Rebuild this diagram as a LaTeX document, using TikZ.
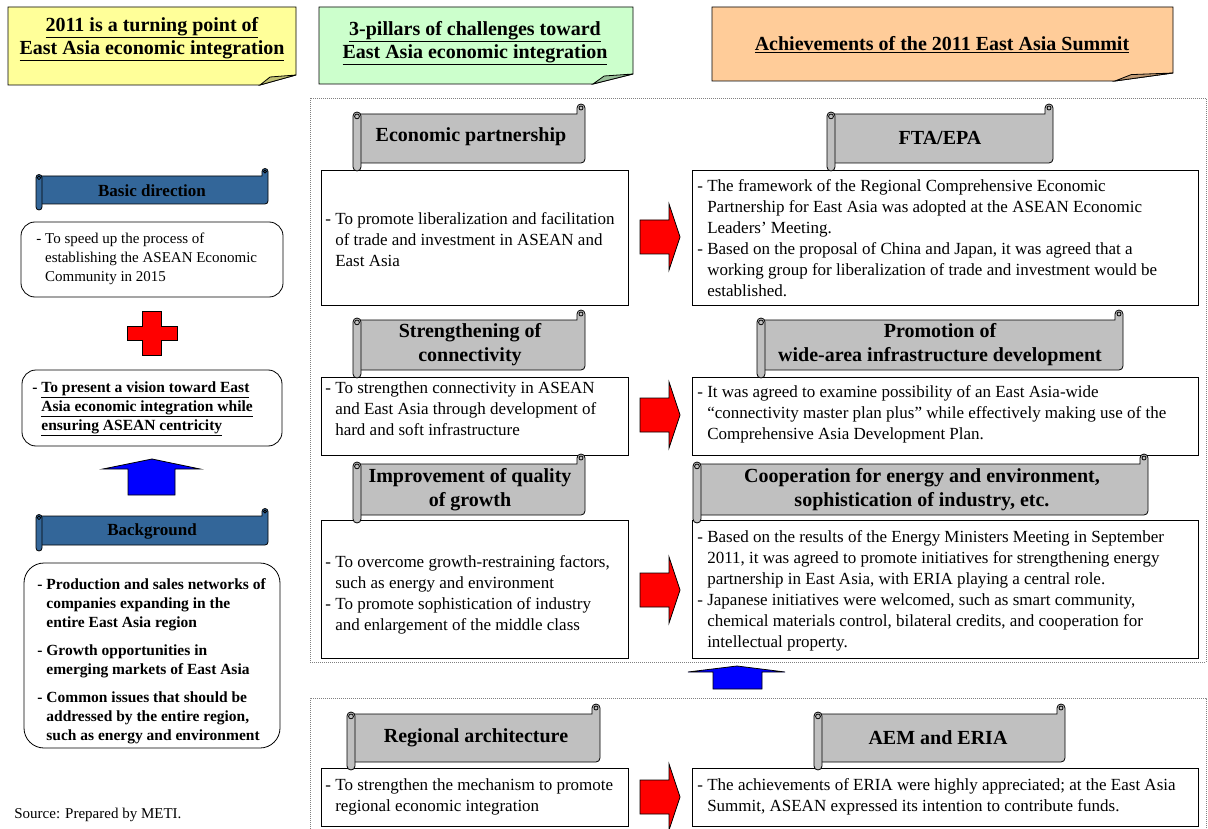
\documentclass[tikz,border=0pt]{standalone}
\usepackage{fontspec}
\setmainfont{Liberation Serif}
\usepackage{tikz}
\usetikzlibrary{calc}

\definecolor{noteyellow}{HTML}{FFFF99}
\definecolor{notegreen}{HTML}{CCFFCC}
\definecolor{noteorange}{HTML}{FFCC99}
\definecolor{scrollblue}{HTML}{336699}
\definecolor{scrollgray}{HTML}{C0C0C0}

\tikzset{
  pane/.style={draw, fill=white},
  softpane/.style={draw, fill=white, rounded corners=14pt},
  dotframe/.style={draw=gray, line width=0.8pt, dash pattern=on 1pt off 1pt},
  body/.style={font=\fontsize{17}{21}\selectfont, align=left, inner sep=0pt, anchor=west},
  sidetext/.style={font=\fontsize{15}{19}\selectfont, align=left, inner sep=0pt, anchor=west},
  sidebold/.style={font=\bfseries\fontsize{15.5}{19}\selectfont, align=left, inner sep=0pt, anchor=west},
  scrolltext/.style={font=\bfseries\fontsize{20}{24}\selectfont, align=center, inner sep=0pt},
  sidescroll/.style={font=\bfseries\fontsize{17}{20}\selectfont, align=center, inner sep=0pt},
  headtext/.style={font=\bfseries\fontsize{20}{23}\selectfont, align=center, inner sep=0pt},
  redblock/.style={draw, fill=red},
  blueblock/.style={draw, fill=blue},
}

\newcommand{\ind}{\hspace*{0.58em}}
\newcommand{\foldnote}[7]{%
  \filldraw[fill=#7] (#1,#2) -- (#3,#2) -- (#3,{#4-#6}) -- ({#3-#5},#4) -- (#1,#4) -- cycle;
  \filldraw[fill=#7!75!black] ({#3-#5},#4) -- ({#3-0.72*#5},{#4-0.8*#6}) -- (#3,{#4-#6}) -- cycle;
}
\newcommand{\scrollshape}[6]{%
  \filldraw[fill=#5] ({#1+#6},#2) -- ({#3-2*#6},#2) -- ({#3-2*#6},{#2-1.5*#6})
    arc (180:360:#6) -- (#3,{#4-#6}) arc (0:90:#6) -- ({#1+#6},#4) -- cycle;
  \draw ({#3-#6},{#2-1.5*#6}) circle ({0.5*#6});
  \filldraw[fill=#5, rounded corners=#6pt] (#1,{#2-0.5*#6}) rectangle ({#1+2*#6},{#4+2*#6});
  \draw ({#1+#6},{#2+0.6*#6}) circle ({0.6*#6});
}
\newcommand{\rightblock}[1]{%
  \filldraw[redblock] (640,{#1-17}) -- (669,{#1-17}) -- (669,{#1-33}) -- (680,#1)
    -- (669,{#1+33}) -- (669,{#1+17}) -- (640,{#1+17}) -- cycle;
}

\begin{document}
\begin{tikzpicture}[x=1pt, y=-1pt, line width=0.8pt]
\useasboundingbox (0,0) rectangle (1208,829);
\fill[white] (0,0) rectangle (1208,829);

\foldnote{8}{7}{296}{85}{36}{10}{noteyellow}
\foldnote{319}{7}{633}{84}{40}{10}{notegreen}
\foldnote{712}{7}{1173}{81}{58}{8}{noteorange}
\node[headtext] (turn) at (152,39.5) {\underline{2011 is a turning point of}\\\underline{East Asia economic integration}};
\node[headtext] (pillars) at (475,43) {\underline{3-pillars of challenges toward}\\\underline{East Asia economic integration}};
\node[headtext] (summit) at (942,45) {\underline{Achievements of the 2011 East Asia Summit}};

\draw[dotframe] (310,98) rectangle (1206,662);
\draw[dotframe] (310,835) -- (310,698) -- (1206,698) -- (1206,835);

% left column
\draw[softpane] (21,222) rectangle (283,297);
\draw[softpane] (22,370) rectangle (282,446);
\draw[softpane, rounded corners=20pt] (24,563) rectangle (280,748);
\scrollshape{36}{176}{268}{204}{scrollblue}{3}
\scrollshape{36}{516}{268}{545}{scrollblue}{3}
\node[sidescroll] (basic) at (152,191) {Basic direction};
\node[sidescroll] (backgr) at (152,531) {Background};
\node[sidetext] (speed) at (36,259) {- To speed up the process of\\\ind establishing the ASEAN Economic\\\ind Community in 2015};
\node[sidebold] (vision) at (32,409) {- \underline{To present a vision toward East}\\\ind\underline{Asia economic integration while}\\\ind\underline{ensuring ASEAN centricity}};
\node[sidebold] (networks) at (37,661.5) {- Production and sales networks of\\\ind companies expanding in the\\\ind entire East Asia region\\[9pt]- Growth opportunities in\\\ind emerging markets of East Asia\\[9pt]- Common issues that should be\\\ind addressed by the entire region,\\\ind such as energy and environment};
\filldraw[fill=red] (142,311) -- (161,311) -- (161,326) -- (177,326) -- (177,340) -- (161,340)
  -- (161,355) -- (142,355) -- (142,340) -- (127,340) -- (127,326) -- (142,326) -- cycle;
\filldraw[blueblock] (128,495) -- (128,469) -- (103,469) -- (152,459) -- (200,469) -- (175,469) -- (175,495) -- cycle;
\node[font=\fontsize{15}{18}\selectfont, anchor=west, inner sep=0pt] (source) at (14,815) {Source: Prepared by METI.};

% boxes
\draw[pane] (321,170) rectangle (628,305);
\draw[pane] (692,170) rectangle (1198,305);
\draw[pane] (321,377) rectangle (628,455);
\draw[pane] (692,377) rectangle (1198,455);
\draw[pane] (321,520) rectangle (628,658);
\draw[pane] (692,520) rectangle (1198,658);
\draw[pane] (321,768) rectangle (628,826);
\draw[pane] (692,768) rectangle (1198,826);

% scrolls
\scrollshape{353}{114}{585}{163}{scrollgray}{4}
\scrollshape{827}{114}{1053}{163}{scrollgray}{4}
\scrollshape{353}{320}{585}{370}{scrollgray}{4}
\scrollshape{757}{320}{1123}{370}{scrollgray}{4}
\scrollshape{353}{464}{585}{515}{scrollgray}{4}
\scrollshape{693}{464}{1148}{515}{scrollgray}{4}
\scrollshape{347}{714}{600}{762}{scrollgray}{4}
\scrollshape{814}{714}{1065}{762}{scrollgray}{4}
\node[scrolltext] (ecop) at (471,137) {Economic partnership};
\node[scrolltext] (fta) at (940,138) {FTA/EPA};
\node[scrolltext] (conn) at (470,345) {Strengthening of\\connectivity};
\node[scrolltext] (infra) at (940,345) {Promotion of\\wide-area infrastructure development};
\node[scrolltext] (growth) at (470,490) {Improvement of quality\\of growth};
\node[scrolltext] (energy) at (922,490) {Cooperation for energy and environment,\\sophistication of industry, etc.};
\node[scrolltext] (arch) at (476,738) {Regional architecture};
\node[scrolltext] (aem) at (938,738) {AEM and ERIA};

% texts
\node[body] (ecoL) at (325,240) {- To promote liberalization and facilitation\\\ind of trade and investment in ASEAN and\\\ind East Asia};
\node[body] (ftaR) at (697,238.5) {- The framework of the Regional Comprehensive Economic\\\ind Partnership for East Asia was adopted at the ASEAN Economic\\\ind Leaders' Meeting.\\- Based on the proposal of China and Japan, it was agreed that a\\\ind working group for liberalization of trade and investment would be\\\ind established.};
\node[body] (connL) at (325,408.5) {- To strengthen connectivity in ASEAN\\\ind and East Asia through development of\\\ind hard and soft infrastructure};
\node[body] (infraR) at (697,414.5) {- It was agreed to examine possibility of an East Asia-wide\\\ind ``connectivity master plan plus'' while effectively making use of the\\\ind Comprehensive Asia Development Plan.};
\node[body] (growthL) at (325,594.5) {- To overcome growth-restraining factors,\\\ind such as energy and environment\\- To promote sophistication of industry\\\ind and enlargement of the middle class};
\node[body] (energyR) at (697,590.5) {- Based on the results of the Energy Ministers Meeting in September\\\ind 2011, it was agreed to promote initiatives for strengthening energy\\\ind partnership in East Asia, with ERIA playing a central role.\\- Japanese initiatives were welcomed, such as smart community,\\\ind chemical materials control, bilateral credits, and cooperation for\\\ind intellectual property.};
\node[body] (archL) at (325,797) {- To strengthen the mechanism to promote\\\ind regional economic integration};
\node[body] (aemR) at (697,797) {- The achievements of ERIA were highly appreciated; at the East Asia\\\ind Summit, ASEAN expressed its intention to contribute funds.};

% arrows
\rightblock{237}
\rightblock{415}
\rightblock{590}
\rightblock{797}
\filldraw[blueblock] (713,689) -- (713,672) -- (688,672) -- (737,666) -- (785,672) -- (762,672) -- (762,689) -- cycle;
\end{tikzpicture}
\end{document}
